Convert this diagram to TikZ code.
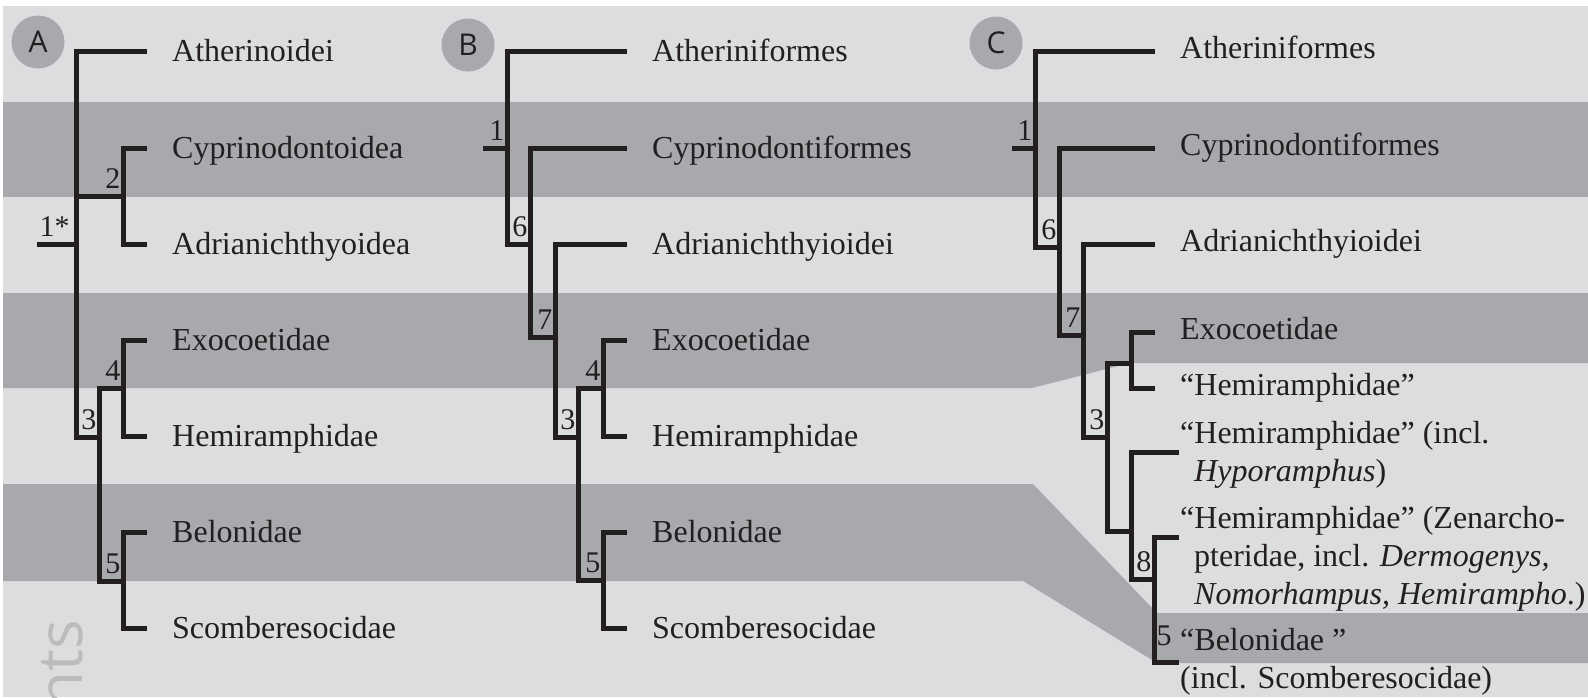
\documentclass[tikz,border=0pt]{standalone}
\usepackage{fontspec}
\setmainfont{Liberation Serif}
\newfontfamily\tagfont{Open Sans}
\usetikzlibrary{positioning}
\definecolor{bandlight}{HTML}{DCDDDF}
\definecolor{banddark}{HTML}{A7A9AC}
\definecolor{treeline}{HTML}{231F20}
\definecolor{ghost}{HTML}{BCBDBA}
\begin{document}
\begin{tikzpicture}[x=1pt,y=-1pt,
  branch/.style={line width=5pt,draw=treeline},
  taxon/.style={anchor=west,inner xsep=25pt,inner ysep=0pt,text height=23pt,text depth=2pt,
    font=\fontsize{32}{38}\selectfont,text=treeline},
  taxonC/.style={taxon,text height=16pt},
  txtline/.style={anchor=base west,inner sep=0pt,font=\fontsize{32}{38}\selectfont,text=treeline},
  num/.style={anchor=south east,inner xsep=2.5pt,inner ysep=7pt,font=\fontsize{30}{30}\selectfont,text=treeline},
  panel/.style={circle,fill=banddark,minimum size=53pt,inner sep=0pt,
    font=\tagfont\fontsize{30}{30}\selectfont,text=treeline}]
\useasboundingbox (0,0) rectangle (1588,697);
% background bands
\fill[white] (0,0) rectangle (1588,697);
\fill[bandlight] (3,6) rectangle (1588,697);
\fill[banddark] (3,102) rectangle (1588,197);
\fill[banddark] (3,293) -- (1588,293) -- (1588,363) -- (1130,363) -- (1032,388) -- (3,388) -- cycle;
\fill[banddark] (3,484) -- (1033,484) -- (1157,613) -- (1588,613) -- (1588,663) -- (1157,663) -- (1023,581) -- (3,581) -- cycle;
\begin{scope}
\clip (3,6) rectangle (1588,697);
\node[rotate=90,anchor=base east,inner sep=0pt,text=ghost,font=\tagfont\fontsize{62}{62}\selectfont] (ghostword) at (82,620) {nts};
\end{scope}
\node[panel] (tagA) at (38,42) {A};
\node[panel] (tagB) at (468,45) {B};
\node[panel] (tagC) at (996,43) {C};

% tree A
\coordinate (stubA) at (37,244);
\coordinate (rootA) at (76,244);
\coordinate (n2A) at (123,196);
\coordinate (n3A) at (99,437);
\coordinate (n4A) at (123,388);
\coordinate (n5A) at (123,581);
\node[taxon] (atA) at (147,51) {Atherinoidei};
\node[taxon] (cypA) at (147,148) {Cyprinodontoidea};
\node[taxon] (adrA) at (147,244) {Adrianichthyoidea};
\node[taxon] (exoA) at (147,340) {Exocoetidae};
\node[taxon] (hemA) at (147,436) {Hemiramphidae};
\node[taxon] (belA) at (147,532) {Belonidae};
\node[taxon] (scoA) at (147,628) {Scomberesocidae};
\draw[branch] (stubA) -- (rootA);
\draw[branch] (atA.west) -| (rootA) |- (n3A);
\draw[branch] (n2A) -- (n2A -| rootA);
\draw[branch] (cypA.west) -| (n2A) |- (adrA.west);
\draw[branch] (n4A) -| (n3A) |- (n5A);
\draw[branch] (exoA.west) -| (n4A) |- (hemA.west);
\draw[branch] (belA.west) -| (n5A) |- (scoA.west);
\node[num,anchor=south west] (l1A) at (stubA) {1*};
\node[num] (l2A) at (n2A) {2};
\node[num] (l3A) at (n3A) {3};
\node[num] (l4A) at (n4A) {4};
\node[num] (l5A) at (n5A) {5};

% tree B
\coordinate (stubB) at (483,148);
\coordinate (rootB) at (507,148);
\coordinate (n6B) at (530,244);
\coordinate (n7B) at (555,337);
\coordinate (n3B) at (578,437);
\coordinate (n4B) at (603,388);
\coordinate (n5B) at (603,580);
\node[taxon] (atB) at (627,51) {Atheriniformes};
\node[taxon] (cypB) at (627,148) {Cyprinodontiformes};
\node[taxon] (adrB) at (627,244) {Adrianichthyioidei};
\node[taxon] (exoB) at (627,340) {Exocoetidae};
\node[taxon] (hemB) at (627,436) {Hemiramphidae};
\node[taxon] (belB) at (627,532) {Belonidae};
\node[taxon] (scoB) at (627,628) {Scomberesocidae};
\draw[branch] (stubB) -- (rootB);
\draw[branch] (atB.west) -| (rootB) |- (n6B);
\draw[branch] (cypB.west) -| (n6B) |- (n7B);
\draw[branch] (adrB.west) -| (n7B) |- (n3B);
\draw[branch] (n4B) -| (n3B) |- (n5B);
\draw[branch] (exoB.west) -| (n4B) |- (hemB.west);
\draw[branch] (belB.west) -| (n5B) |- (scoB.west);
\node[num] (l1B) at (rootB) {1};
\node[num] (l6B) at (n6B) {6};
\node[num] (l7B) at (n7B) {7};
\node[num] (l3B) at (n3B) {3};
\node[num] (l4B) at (n4B) {4};
\node[num] (l5B) at (n5B) {5};

% tree C
\coordinate (stubC) at (1012,148);
\coordinate (rootC) at (1035,148);
\coordinate (n6C) at (1059,247);
\coordinate (n7C) at (1083,335);
\coordinate (n3C) at (1107,437);
\coordinate (n9C) at (1131,363);
\coordinate (n10C) at (1131,531);
\coordinate (n8C) at (1154,579);
\coordinate (hypTip) at (1179,452);
\coordinate (zenTip) at (1179,537);
\coordinate (belTip) at (1179,662);
\node[taxonC] (atC) at (1155,51) {Atheriniformes};
\node[taxonC] (cypC) at (1155,148) {Cyprinodontiformes};
\node[taxonC] (adrC) at (1155,244) {Adrianichthyioidei};
\node[taxonC] (exoC) at (1155,332) {Exocoetidae};
\node[taxonC] (hemC) at (1155,388) {“Hemiramphidae”};
\node[txtline] (hyp1) at (1180,443) {“Hemiramphidae” (incl.};
\node[txtline] (hyp2) at (1194,481) {\textit{Hyporamphus})};
\node[txtline] (zen1) at (1180,528) {“Hemiramphidae” (Zenarcho-};
\node[txtline] (zen2) at (1194,566) {pteridae, incl. \textit{Dermogenys,}};
\node[txtline] (zen3) at (1194,604) {\textit{Nomorhampus, Hemirampho}.)};
\node[txtline] (bel1) at (1180,650) {“Belonidae ”};
\node[txtline] (bel2) at (1180,688) {(incl. Scomberesocidae)};
\draw[branch] (stubC) -- (rootC);
\draw[branch] (atC.west) -| (rootC) |- (n6C);
\draw[branch] (cypC.west) -| (n6C) |- (n7C);
\draw[branch] (adrC.west) -| (n7C) |- (n3C);
\draw[branch] (n9C) -| (n3C) |- (n10C);
\draw[branch] (exoC.west) -| (n9C) |- (hemC.west);
\draw[branch] (hypTip) -| (n10C) |- (n8C);
\draw[branch] (zenTip) -| (n8C) |- (belTip);
\node[num] (l1C) at (rootC) {1};
\node[num] (l6C) at (n6C) {6};
\node[num] (l7C) at (n7C) {7};
\node[num] (l3C) at (n3C) {3};
\node[num] (l8C) at (n8C) {8};
\node[num,anchor=south west,yshift=9pt] (l5C) at (n8C |- belTip) {5};
\end{tikzpicture}
\end{document}
